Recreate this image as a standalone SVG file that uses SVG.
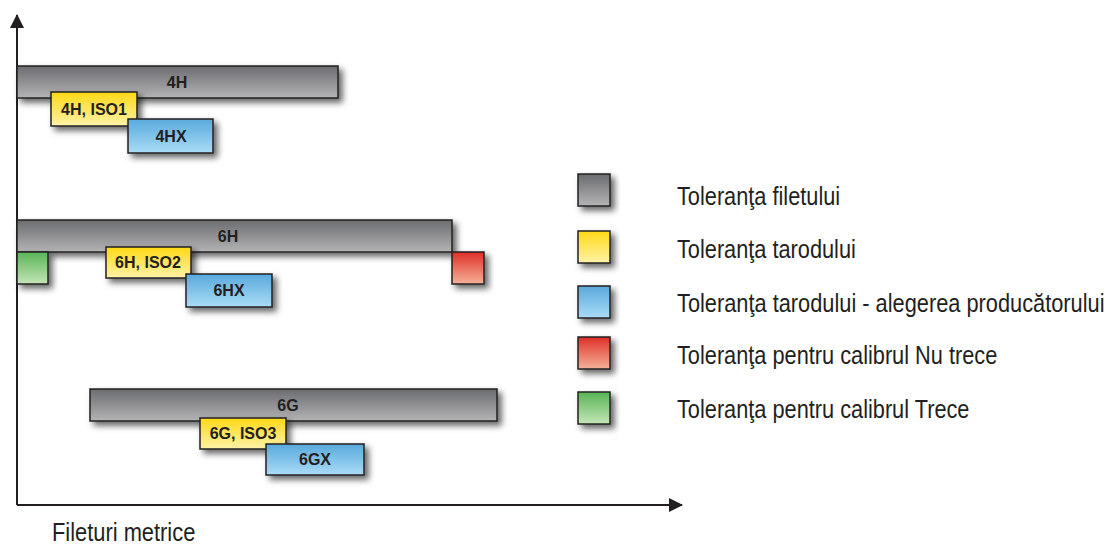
<svg xmlns="http://www.w3.org/2000/svg" width="1109" height="546" viewBox="0 0 1109 546">
  <defs>
    <linearGradient id="gGray" x1="0" y1="0" x2="0" y2="1">
      <stop offset="0" stop-color="#6b6c6f"/>
      <stop offset="1" stop-color="#b4b4b6"/>
    </linearGradient>
    <linearGradient id="gYellow" x1="0" y1="0" x2="0" y2="1">
      <stop offset="0" stop-color="#ffd814"/>
      <stop offset="1" stop-color="#fff3a8"/>
    </linearGradient>
    <linearGradient id="gBlue" x1="0" y1="0" x2="0" y2="1">
      <stop offset="0" stop-color="#58a9dc"/>
      <stop offset="1" stop-color="#aadcf6"/>
    </linearGradient>
    <linearGradient id="gRed" x1="0" y1="0" x2="0" y2="1">
      <stop offset="0" stop-color="#df2f27"/>
      <stop offset="1" stop-color="#f5b298"/>
    </linearGradient>
    <linearGradient id="gGreen" x1="0" y1="0" x2="0" y2="1">
      <stop offset="0" stop-color="#58b457"/>
      <stop offset="1" stop-color="#c4e6b6"/>
    </linearGradient>
    <filter id="shadow" x="-20%" y="-30%" width="150%" height="180%">
      <feDropShadow dx="4" dy="4" stdDeviation="3" flood-color="#000" flood-opacity="0.6"/>
    </filter>
    <marker id="arrow" viewBox="0 0 14 14" refX="13" refY="7" markerWidth="14" markerHeight="14" markerUnits="userSpaceOnUse" orient="auto">
      <path d="M0,0 L14,7 L0,14 Z" fill="#231f20"/>
    </marker>
  </defs>
  <style>
    .box { stroke: #231f20; stroke-width: 1.5; filter: url(#shadow); }
    .gray { fill: url(#gGray); }
    .yellow { fill: url(#gYellow); }
    .blue { fill: url(#gBlue); }
    .red { fill: url(#gRed); }
    .green { fill: url(#gGreen); }
    .lbl { font-family: "Liberation Sans", Arial, sans-serif; font-weight: bold; font-size: 16px; fill: #231f20; text-anchor: middle; }
    .leg { font-family: "Liberation Sans", Arial, sans-serif; font-size: 25px; fill: #231f20; }
    .axis { stroke: #231f20; stroke-width: 2; fill: none; }
  </style>

  <g id="connectors">
    <line class="axis" x1="17" y1="505" x2="17" y2="15" marker-end="url(#arrow)"/>
    <line class="axis" x1="17" y1="505" x2="682" y2="505" marker-end="url(#arrow)"/>
  </g>

  <g id="node-4H">
    <rect class="box gray" x="17" y="66" width="321" height="32"/>
    <text class="lbl" x="177" y="88">4H</text>
  </g>
  <g id="node-4H-ISO1">
    <rect class="box yellow" x="51" y="92" width="86" height="34"/>
    <text class="lbl" x="94" y="115">4H, ISO1</text>
  </g>
  <g id="node-4HX">
    <rect class="box blue" x="128" y="119" width="85" height="34"/>
    <text class="lbl" x="171" y="142">4HX</text>
  </g>

  <g id="node-6H">
    <rect class="box gray" x="17" y="220" width="435" height="32"/>
    <text class="lbl" x="228" y="242">6H</text>
  </g>
  <g id="node-6H-green">
    <rect class="box green" x="17" y="252" width="31" height="32"/>
  </g>
  <g id="node-6H-red">
    <rect class="box red" x="452" y="252" width="32" height="32"/>
  </g>
  <g id="node-6H-ISO2">
    <rect class="box yellow" x="106" y="247" width="85" height="31"/>
    <text class="lbl" x="148" y="268">6H, ISO2</text>
  </g>
  <g id="node-6HX">
    <rect class="box blue" x="186" y="274" width="86" height="33"/>
    <text class="lbl" x="229" y="296">6HX</text>
  </g>

  <g id="node-6G">
    <rect class="box gray" x="90" y="389" width="407" height="32"/>
    <text class="lbl" x="288" y="411">6G</text>
  </g>
  <g id="node-6G-ISO3">
    <rect class="box yellow" x="200" y="418" width="86" height="31"/>
    <text class="lbl" x="243" y="439">6G, ISO3</text>
  </g>
  <g id="node-6GX">
    <rect class="box blue" x="266" y="444" width="98" height="31"/>
    <text class="lbl" x="315" y="465">6GX</text>
  </g>

  <g id="legend">
    <rect class="box gray" x="578" y="174" width="32" height="32"/>
    <text class="leg" transform="translate(677 205) scale(0.87 1)">Toleranţa filetului</text>
    <rect class="box yellow" x="578" y="231" width="32" height="32"/>
    <text class="leg" transform="translate(677 258) scale(0.87 1)">Toleranţa tarodului</text>
    <rect class="box blue" x="578" y="286" width="32" height="32"/>
    <text class="leg" transform="translate(677 312) scale(0.872 1)">Toleranţa tarodului - alegerea producătorului</text>
    <rect class="box red" x="578" y="337" width="32" height="32"/>
    <text class="leg" transform="translate(677 364) scale(0.87 1)">Toleranţa pentru calibrul Nu trece</text>
    <rect class="box green" x="578" y="392" width="32" height="32"/>
    <text class="leg" transform="translate(677 418) scale(0.87 1)">Toleranţa pentru calibrul Trece</text>
  </g>

  <text class="leg" transform="translate(52 541) scale(0.875 1)">Fileturi metrice</text>
</svg>
